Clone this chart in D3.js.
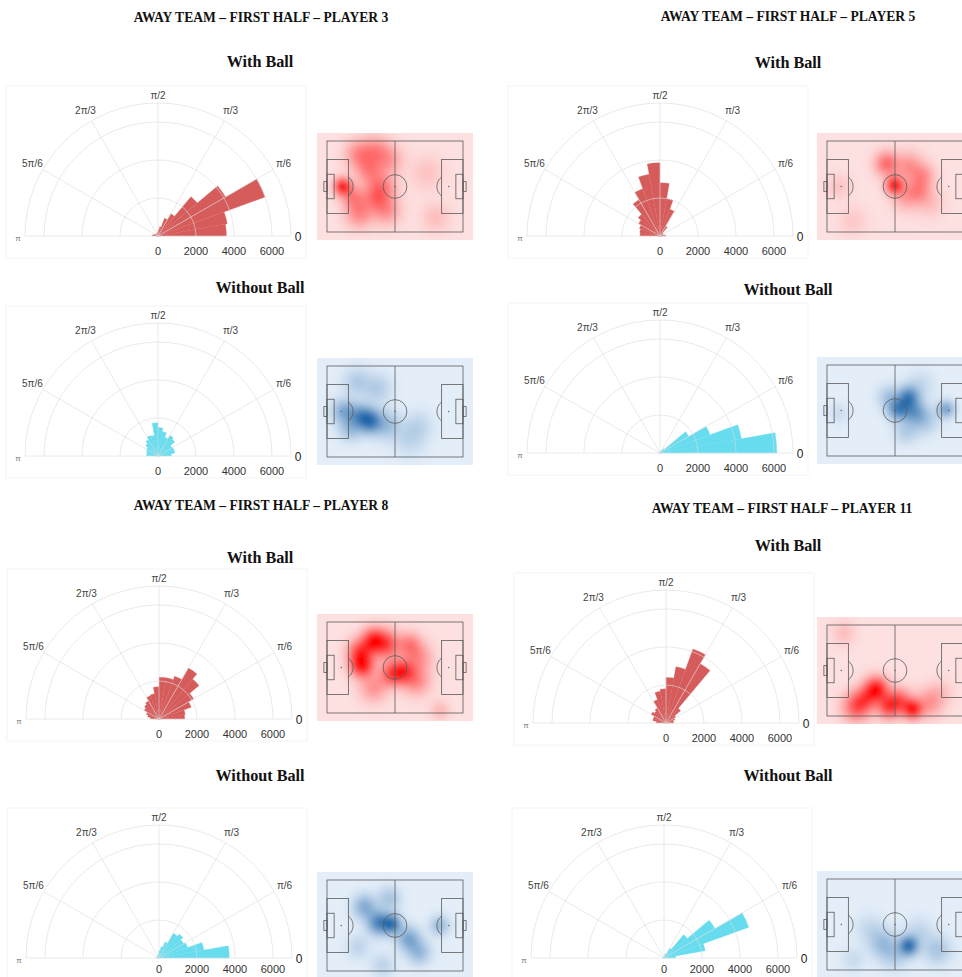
<!DOCTYPE html>
<html><head><meta charset="utf-8">
<script src="https://cdn.jsdelivr.net/npm/d3@7"></script>
<style>body{margin:0;background:#fff}svg{display:block}</style>
</head><body>
<svg id="c" width="962" height="977"></svg>
<script>
// ---------- DATA ----------
const titles = ["AWAY TEAM – FIRST HALF – PLAYER 3","AWAY TEAM – FIRST HALF – PLAYER 5","AWAY TEAM – FIRST HALF – PLAYER 8","AWAY TEAM – FIRST HALF – PLAYER 11"];
const subtitles = ["With Ball","Without Ball"];
const radialTicks = [0,2000,4000,6000];
const angleLabels = ["0","π/6","π/3","π/2","2π/3","5π/6","π"];
// 18 bins of π/18 from 0 to π
const p3With     = [3600,3700,6000,4100,2700,1350,1000,500,300,200,150,150,150,150,150,200,250,300];
const p3Without  = [700,900,900,850,1150,1250,1050,1300,1500,1750,1100,1150,1000,850,700,650,600,600];
const p5With     = [300,200,150,150,200,600,1500,2000,2800,3850,3300,2650,2200,1500,1300,1150,1080,1050];
const p5Without  = [6150,4350,2800,1750,300,150,100,80,60,50,50,50,50,50,50,50,50,80];
const p8With     = [1350,1400,1800,2100,2750,3100,2400,2200,2200,1700,1350,1300,1100,1000,900,700,600,450];
const p8Without  = [3700,2400,1600,1500,1650,1500,900,600,400,250,150,120,100,100,100,100,100,150];
const p11With    = [400,400,500,600,1000,3600,4150,3000,2400,1800,1700,1300,900,800,900,700,700,500];
const p11Without = [600,2200,4750,3100,1600,600,250,150,100,80,60,50,50,50,50,50,50,80];
// heat spots: [x m, y m, weight, spread m]
const h3With = [[12,34,1.0,3.5],[25,10,0.35,6],[38,7,0.3,6],[33,22,0.35,6],[38,42,0.4,6],[25,54,0.35,6],[46,52,0.3,6],[20,42,0.35,5],[48,14,0.25,6],[43,34,0.3,6],[84,57,0.12,6],[77,24,0.1,7]];
const h5With = [[52,33,1.0,3.5],[46,17,0.5,5],[63,19,0.3,6],[74,26,0.3,5],[71,37,0.3,5],[61,41,0.25,6],[79,46,0.12,6],[9,34,0.1,5],[20,60,0.08,6]];
const h3Without = [[33,41,0.9,5],[13,34,0.45,5],[25,37,0.5,5],[23,12,0.2,6],[39,17,0.2,6],[46,44,0.3,6],[64,54,0.15,7],[71,44,0.12,6],[18,47,0.3,5]];
const h5Without = [[63,24,0.8,4.5],[55,33,0.75,4.5],[67,35,0.5,5],[92,33,0.55,3.5],[75,41,0.25,6],[61,50,0.2,5],[9,36,0.1,4],[48,24,0.25,5],[72,15,0.12,6]];
const h8With = [[27,32,1.0,5],[36,14,0.9,5],[25,22,0.6,5],[46,17,0.6,6],[59,37,0.7,5],[50,39,0.6,5],[64,17,0.4,5],[69,44,0.35,6],[36,49,0.3,6],[87,66,0.15,4],[71,27,0.3,6]];
const h11With = [[38,48,1.0,5],[66,63,1.0,4],[48,61,0.7,5],[23,61,0.6,6],[56,56,0.5,5],[79,58,0.3,6],[13,6,0.12,5],[88,50,0.1,5],[30,55,0.4,5]];
const h8Without = [[50,33,0.9,4],[40,32,0.75,5],[63,44,0.5,5],[29,20,0.45,5],[71,54,0.35,5],[87,34,0.35,4],[48,14,0.25,5],[24,50,0.15,5],[43,64,0.15,5]];
const h11Without = [[63,50,1.0,4],[43,48,0.3,6],[85,53,0.25,6],[33,37,0.12,6],[71,40,0.15,6],[52,57,0.2,6],[20,60,0.1,5]];

// ---------- DRAW ----------
const svg = d3.select("#c");
const RED = "#d65c5c", CYAN = "#66dcee";
const redBg = "#fde1e1", redHot = "#ff0000";
const blueBg = "#e4eef9", blueHot = "#1c64a8";
const defs = svg.append("defs");
defs.append("filter").attr("id","blur").attr("x","-5%").attr("y","-5%").attr("width","110%").attr("height","110%")
  .append("feGaussianBlur").attr("stdDeviation",2.4);

const R = 133;
const rScale = d3.scaleLinear().domain([0,7000]).range([0,R]);
const binAngle = Math.PI/18;

function drawPolar(cx, cy, values, color, tickOff){
  const g = svg.append("g");
  g.append("rect").attr("x",cx-152).attr("y",cy-150).attr("width",300).attr("height",172)
    .attr("fill","#fff").attr("stroke","#f4f4f4").attr("stroke-width",1);
  const arc = d3.arc().innerRadius(0);
  g.selectAll("path.bar").data(values).join("path").attr("class","bar")
    .attr("transform",`translate(${cx},${cy})`)
    .attr("d",(v,i)=>arc({outerRadius:rScale(v), startAngle:Math.PI/2-(i+1)*binAngle, endAngle:Math.PI/2-i*binAngle}))
    .attr("fill",color).attr("stroke",color).attr("stroke-width",0.3);
  // grid
  const grid = g.append("g").attr("fill","none").attr("stroke","#dcdcdc").attr("stroke-width",1).attr("stroke-opacity",0.6);
  [2000,4000,6000,7000].forEach(v=>{
    const p = d3.path(); const r = rScale(v);
    p.moveTo(cx-r,cy); p.arc(cx,cy,r,Math.PI,2*Math.PI);
    grid.append("path").attr("d",p.toString());
  });
  d3.range(0,7).forEach(k=>{
    const a = k*Math.PI/6;
    grid.append("line").attr("x1",cx).attr("y1",cy).attr("x2",cx+R*Math.cos(a)).attr("y2",cy-R*Math.sin(a));
  });
  // angle labels
  angleLabels.forEach((t,k)=>{
    const a = k*Math.PI/6;
    let rr = 145, x = cx+rr*Math.cos(a), y = cy-rr*Math.sin(a);
    let size = 10, fill = "#444";
    if(k===0){ x = cx+140; y = cy+1; size = 12; fill = "#222"; }
    if(k===6){ x = cx-140; y = cy+2; size = 8; fill = "#777"; }
    if(k===3){ y = cy-141; }
    g.append("text").attr("x",x).attr("y",y).attr("text-anchor","middle").attr("dominant-baseline","central")
      .attr("font-family","Liberation Sans, Arial, sans-serif").attr("font-size",size).attr("fill",fill).text(t);
  });
  radialTicks.forEach(v=>{
    g.append("text").attr("x",cx+rScale(v)).attr("y",cy+(tickOff||15)).attr("text-anchor","middle").attr("dominant-baseline","central")
      .attr("font-family","Liberation Sans, Arial, sans-serif").attr("font-size",11).attr("fill","#333").text(v);
  });
}

let clipId = 0;
function drawHeat(x0, y0, spots, bg, hot){
  const w = 156, h = 107;
  const g = svg.append("g");
  const id = "clip"+(clipId++);
  defs.append("clipPath").attr("id",id).append("rect").attr("x",x0).attr("y",y0).attr("width",w).attr("height",h);
  g.append("rect").attr("x",x0).attr("y",y0).attr("width",w).attr("height",h).attr("fill",bg);
  const px0 = x0+10, py0 = y0+8, pw = 136, ph = 91;
  const xs = d3.scaleLinear().domain([0,105]).range([px0,px0+pw]);
  const ys = d3.scaleLinear().domain([0,68]).range([py0,py0+ph]);
  const col = d3.interpolateRgb(bg,hot);
  const cs = 3;
  const cells = [];
  for(let yy=y0-6; yy<y0+h+6; yy+=cs){
    for(let xx=x0-6; xx<x0+w+6; xx+=cs){
      const mx = xs.invert(xx+cs/2), my = ys.invert(yy+cs/2);
      let d = 0;
      spots.forEach(([sx,sy,wt,sg])=>{ const s = sg*1.15; d += wt*Math.exp(-((mx-sx)**2+(my-sy)**2)/(2*s*s)); });
      cells.push({x:xx,y:yy,t:Math.min(1,d)});
    }
  }
  const hg = g.append("g").attr("clip-path",`url(#${id})`).append("g").attr("filter","url(#blur)");
  hg.selectAll("rect").data(cells).join("rect").attr("x",d=>d.x).attr("y",d=>d.y).attr("width",cs+0.5).attr("height",cs+0.5)
    .attr("fill",d=>col(Math.pow(d.t,0.85)));
  // pitch
  const L = g.append("g").attr("fill","none").attr("stroke","#5a5a5a").attr("stroke-width",0.8);
  const rect = (a,b,c,d)=>L.append("rect").attr("x",xs(a)).attr("y",ys(b)).attr("width",xs(c)-xs(a)).attr("height",ys(d)-ys(b));
  rect(0,0,105,68);
  L.append("line").attr("x1",xs(52.5)).attr("x2",xs(52.5)).attr("y1",ys(0)).attr("y2",ys(68));
  const kx = pw/105;
  L.append("circle").attr("cx",xs(52.5)).attr("cy",ys(34)).attr("r",9.15*kx);
  rect(0,13.84,16.5,54.16); rect(88.5,13.84,105,54.16);
  rect(0,24.84,5.5,43.16); rect(99.5,24.84,105,43.16);
  rect(-2.4,30.34,0,37.66); rect(105,30.34,107.4,37.66);
  const a = Math.acos(5.5/9.15);
  const p1 = d3.path(); p1.arc(xs(11),ys(34),9.15*kx,-a,a); L.append("path").attr("d",p1.toString());
  const p2 = d3.path(); p2.arc(xs(94),ys(34),9.15*kx,Math.PI-a,Math.PI+a); L.append("path").attr("d",p2.toString());
  [[11,34],[52.5,34],[94,34]].forEach(([x,y])=>g.append("circle").attr("cx",xs(x)).attr("cy",ys(y)).attr("r",0.7).attr("fill","#5a5a5a"));
}

function text(x,y,t,size){
  svg.append("text").attr("x",x).attr("y",y).attr("text-anchor","middle").attr("dominant-baseline","central")
    .attr("font-family","Liberation Serif, Times New Roman, serif").attr("font-weight","bold").attr("font-size",size).attr("fill","#111").text(t);
}

// titles
text(261,17,titles[0],13.6); text(788,16,titles[1],13.6);
text(261,505,titles[2],13.6); text(782,508,titles[3],13.6);
text(260,62,subtitles[0],16.2); text(788,63,subtitles[0],16.2);
text(260,288,subtitles[1],16.2); text(788,290,subtitles[1],16.2);
text(260,558,subtitles[0],16.2); text(788,546,subtitles[0],16.2);
text(260,776,subtitles[1],16.2); text(788,776,subtitles[1],16.2);

drawPolar(158,236,p3With,RED);
drawPolar(660,236,p5With,RED);
drawPolar(158,456,p3Without,CYAN);
drawPolar(660,453,p5Without,CYAN);
drawPolar(159,719,p8With,RED);
drawPolar(666,723,p11With,RED);
drawPolar(159,958,p8Without,CYAN,11);
drawPolar(664,958,p11Without,CYAN,11);

drawHeat(317,133,h3With,redBg,redHot);
drawHeat(817,133,h5With,redBg,redHot);
drawHeat(317,358,h3Without,blueBg,blueHot);
drawHeat(817,357,h5Without,blueBg,blueHot);
drawHeat(317,614,h8With,redBg,redHot);
drawHeat(817,617,h11With,redBg,redHot);
drawHeat(317,872,h8Without,blueBg,blueHot);
drawHeat(817,871,h11Without,blueBg,blueHot);
</script>
</body></html>
